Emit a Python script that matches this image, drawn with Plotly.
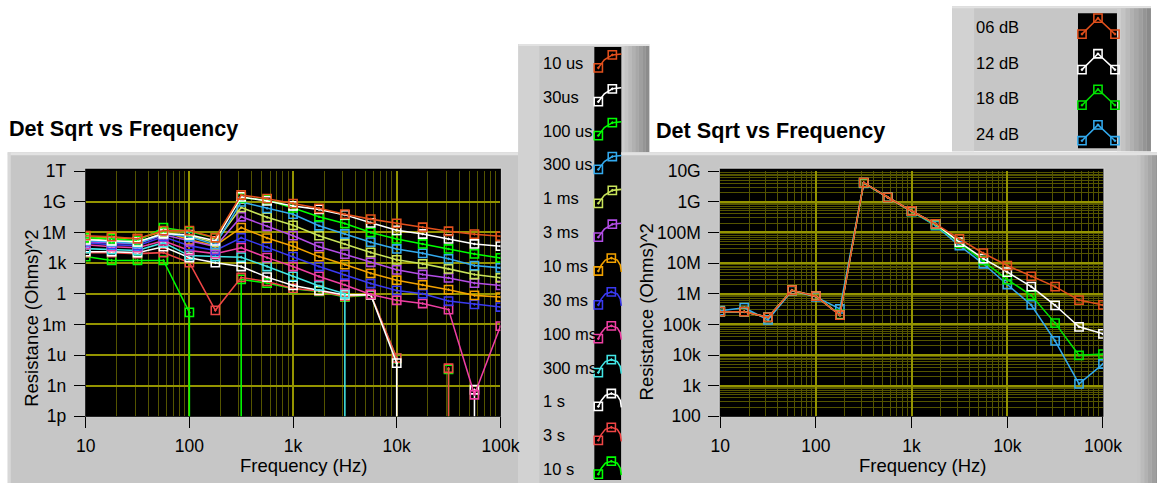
import plotly.graph_objects as go

# Layout positions are given in screen pixels of the 1157 x 483 view.
# The page keeps the browser's body margin and the view shows the page
# at about 97.6 % x 96.6 %, so positions are mapped through that.
VIEW_W, VIEW_H = 1157, 483
SX, SY = 0.976, 0.966
OX, OY = 10.5, 8
W, H = 1174, 489
ZOOM = 1 / ((SX + SY) / 2)  # keeps text and marks at their on-screen size

# ---------------------------------------------------------------- data
freq_hz = [10, 17.8, 31.6, 56.2, 100, 178, 316, 562, 1000, 1780, 3160, 5620,
           10000, 17800, 31600, 56200, 100000]

# Det sqrt, left graph, one list per integration time.
# 0 marks a non-positive result: it has no place on a log axis and the
# trace drops to the bottom edge there.
r_10us = [4.8e5, 3.8e5, 2.4e5, 1.5e6, 1.5e6, 3.0e5, 4.6e9, 2.0e9, 6.6e8, 2.3e8,
          6.1e7, 2.0e7, 7.8e6, 3.2e6, 1.3e6, 6.7e5, 4.2e5]
r_30us = [1.9e5, 1.5e5, 1.2e5, 7.4e5, 5.9e5, 1.5e5, 3.0e9, 1.2e9, 3.9e8, 1.8e8,
          5.2e7, 8.7e6, 1.6e6, 7.0e5, 2.3e5, 7.4e4, 4.5e4]
r_100us = [3.0e5, 2.4e5, 1.5e5, 2.9e6, 1.2e6, 3.0e5, 2.4e9, 1.5e9, 2.5e8, 3.4e7,
           7.5e6, 1.0e6, 2.3e5, 7.4e4, 2.4e4, 7.9e3, 3.2e3]
r_300us = [1.5e5, 1.2e5, 7.9e4, 7.4e5, 3.8e5, 6.3e4, 9.6e8, 2.3e8, 6.1e7, 4.5e6,
           7.0e5, 1.1e5, 2.4e4, 9.0e3, 2.6e3, 570, 340]
r_1ms = [2.4e5, 1.5e5, 9.9e4, 9.3e5, 4.8e5, 9.9e4, 2.8e8, 3.0e7, 5.0e6, 4.8e5,
         7.4e4, 1.1e4, 2.1e3, 840, 270, 76, 36]
r_3ms = [1.2e5, 9.9e4, 7.9e4, 5.9e5, 1.5e5, 4.0e4, 3.4e7, 4.0e6, 4.8e5, 4.0e4,
         7.5e3, 1.2e3, 220, 76, 35, 11, 6.5]
r_10ms = [3.8e5, 3.0e5, 2.4e5, 1.2e6, 1.9e5, 5.1e4, 3.0e6, 2.8e5, 4.5e4, 4.3e3,
          720, 100, 21, 7.3, 2.5, 0.69, 0.47]
r_30ms = [9.9e4, 6.3e4, 5.1e4, 3.8e5, 5.1e4, 1.7e4, 3.0e5, 3.6e4, 4.3e3, 460,
          68, 10, 2.1, 1.0, 0.19, 0.092, 0.050]
r_100ms = [6.3e4, 4.0e4, 3.2e4, 1.5e5, 1.7e4, 8.4e3, 3.2e4, 3.4e3, 460, 49,
           7.3, 0.86, 0.23, 0.11, 0.028, 1.3e-10, 6.7e-4]
r_300ms = [2.6e4, 2.1e4, 1.7e4, 9.9e4, 5.4e3, 4.3e3, 3.8e3, 460, 49, 5.8,
           1.0, 0, 0, 0, 0, 0, 0]
r_1s = [1.3e4, 1.3e4, 1.05e4, 4.0e4, 3.4e3, 1.1e3, 460, 42, 6.5, 2.1,
        0.77, 0.77, 1.6e-7, 0, 0, 4e-10, 0]
r_3s = [1.05e4, 1.05e4, 8.4e3, 1.05e4, 1.1e3, 0.024, 39, 16, 3.3, 1.9,
        0.55, 0.86, 5.1e-7, 0, 5.1e-8, 0, 0]
r_10s = [4.3e3, 1.8e3, 1.8e3, 1.8e3, 0.015, 0, 25, 11, 3.0, 1.7,
         0.47, 0.77, 4.6e-7, 0, 3.9e-8, 0, 0]

time_labels = ["10 us", "30us", "100 us", "300 us", "1 ms", "3 ms", "10 ms",
               "30 ms", "100 ms", "300 ms", "1 s", "3 s", "10 s"]
time_colors = ["#e2501c", "#ffffff", "#00ff00", "#33aaee", "#c8e35a", "#b34de6",
               "#f2a200", "#3a3af0", "#ef3fa3", "#43e6e6", "#ffffff", "#f04646",
               "#00ff00"]
time_series = [r_10us, r_30us, r_100us, r_300us, r_1ms, r_3ms, r_10ms, r_30ms,
               r_100ms, r_300ms, r_1s, r_3s, r_10s]

# Det sqrt, right graph, one list per gain setting
r_06db = [2.6e5, 2.6e5, 1.7e5, 1.3e6, 8.3e5, 2.0e5, 4.2e9, 1.4e9, 5.0e8, 1.9e8,
          6.2e7, 2.1e7, 8.3e6, 3.7e6, 1.7e6, 6.2e5, 4.3e5]
r_12db = [2.6e5, 2.6e5, 1.7e5, 1.3e6, 8.3e5, 2.0e5, 4.2e9, 1.4e9, 5.0e8, 1.9e8,
          4.8e7, 1.4e7, 5.1e6, 1.7e6, 4.2e5, 8.3e4, 4.9e4]
r_18db = [2.6e5, 2.6e5, 1.7e5, 1.3e6, 8.3e5, 2.1e5, 4.1e9, 1.4e9, 4.9e8, 1.8e8,
          4.5e7, 1.2e7, 2.9e6, 8.9e5, 1.1e5, 9.8e3, 1.07e4]
r_24db = [2.8e5, 3.5e5, 1.4e5, 1.26e6, 7.9e5, 3.2e5, 4.0e9, 1.4e9, 4.8e8, 1.66e8,
          3.7e7, 9.5e6, 2.0e6, 4.3e5, 2.9e4, 1.15e3, 5.1e3]

db_labels = ["06 dB", "12 dB", "18 dB", "24 dB"]
db_colors = ["#e2501c", "#ffffff", "#00e600", "#33aaee"]
db_series = [r_06db, r_12db, r_18db, r_24db]

# axis labels
freq_ticks = [10, 100, 1000, 10000, 100000]
freq_text = ["10", "100", "1k", "10k", "100k"]
left_ticks = [1e-12, 1e-9, 1e-6, 1e-3, 1, 1e3, 1e6, 1e9, 1e12]
left_text = ["1p", "1n", "1u", "1m", "1", "1k", "1M", "1G", "1T"]
right_ticks = [1e2, 1e3, 1e4, 1e5, 1e6, 1e7, 1e8, 1e9, 1e10]
right_text = ["100", "1k", "10k", "100k", "1M", "10M", "100M", "1G", "10G"]

# ---------------------------------------------------------------- style
FONT = "Liberation Sans, Arial, sans-serif"
GRID_MAJOR = "#949400"
GRID_MINOR = "#545400"
PANEL = "#c6c6c6"
FLOOR = 1e-30  # far below any axis range: stands for log(0)
MSIZE = 8 * ZOOM
LW = 1.5 * ZOOM


def fx(p):
    return (p / SX - OX) / W


def fy(p):
    return 1 - (p / SY - OY) / H


def fs(size):
    return round(size * ZOOM, 1)


def drop_to_floor(xs, ys):
    """Split a series at non-positive values; neighbours fall vertically."""
    px, py = [], []
    n = len(xs)
    for i, (x, y) in enumerate(zip(xs, ys)):
        if y <= 0:
            continue
        if i > 0 and ys[i - 1] <= 0:
            px.append(x)
            py.append(FLOOR)
        px.append(x)
        py.append(y)
        if i < n - 1 and ys[i + 1] <= 0:
            px += [x, None]
            py += [FLOOR, None]
    return px, py


def minor_values(first_decade, last_decade):
    return [m * 10 ** e for e in range(first_decade, last_decade) for m in range(2, 10)]


def marker(c):
    return dict(symbol="square-open-dot", size=MSIZE, color=c, line=dict(color=c, width=LW))


fig = go.Figure()

# later plots first, so the first plot ends up on top
for i in reversed(range(len(time_series))):
    xs, ys = drop_to_floor(freq_hz, time_series[i])
    c = time_colors[i]
    fig.add_trace(go.Scatter(
        x=xs, y=ys, mode="lines+markers", xaxis="x", yaxis="y",
        line=dict(color=c, width=LW), marker=marker(c),
        connectgaps=False, hoverinfo="skip", showlegend=False))

for i in reversed(range(len(db_series))):
    xs, ys = drop_to_floor(freq_hz, db_series[i])
    c = db_colors[i]
    fig.add_trace(go.Scatter(
        x=xs, y=ys, mode="lines+markers", xaxis="x2", yaxis="y2",
        line=dict(color=c, width=LW), marker=marker(c),
        connectgaps=False, hoverinfo="skip", showlegend=False))

# ---------------------------------------------------------------- legend icons
# drawn on a hidden full-page axis measured in screen pixels
for i, c in enumerate(time_colors):
    L = 61 + 34.1 * i
    if i < 6:
        ix = [599, 605, 613, 622]
        iy = [L + 5, L - 3, L - 8, L - 9]
        mk = [0, 2]
    else:
        ix = [599, 602, 606, 612, 618, 621, 622]
        iy = [L + 5, L - 1, L - 6, L - 8, L - 6, L - 1, L + 6]
        mk = [0, 3]
    fig.add_trace(go.Scatter(x=ix, y=iy, mode="lines", xaxis="x3", yaxis="y3",
                             line=dict(color=c, width=LW), hoverinfo="skip", showlegend=False))
    fig.add_trace(go.Scatter(x=[ix[k] for k in mk], y=[iy[k] for k in mk], mode="markers",
                             xaxis="x3", yaxis="y3", marker=marker(c),
                             hoverinfo="skip", showlegend=False))

for i, c in enumerate(db_colors):
    L = 25 + 35.8 * i
    ix = [1083, 1099, 1116]
    iy = [L + 7, L - 9, L + 7]
    fig.add_trace(go.Scatter(x=ix, y=iy, mode="lines+markers", xaxis="x3", yaxis="y3",
                             line=dict(color=c, width=LW), marker=marker(c),
                             hoverinfo="skip", showlegend=False))

# ---------------------------------------------------------------- panels
shapes = []


def rect(x0, y0, x1, y1, fill, line_color=None, lw=0):
    shapes.append(dict(type="rect", xref="paper", yref="paper", layer="below",
                       x0=fx(x0), x1=fx(x1), y0=fy(y1), y1=fy(y0),
                       fillcolor=fill,
                       line=dict(color=line_color or fill, width=lw)))


def hgrad(x0, x1, y0, y1, c0, c1, steps=8):
    for k in range(steps):
        t = k / (steps - 1)
        v = round(c0 + (c1 - c0) * t)
        col = f"rgb({v},{v},{v})"
        a = x0 + (x1 - x0) * k / steps
        b = x0 + (x1 - x0) * (k + 1) / steps
        rect(a, y0, b, y1, col)


# left graph panel
rect(8, 151, 519, 490, PANEL)
rect(8, 151, 519, 154, "#e2e2e2")
rect(8, 151, 11, 490, "#d8d8d8")
# middle legend
rect(519, 42, 650, 490, PANEL)
rect(519, 42, 540, 490, "#d2d2d2")
rect(519, 42, 650, 44, "#e2e2e2")
hgrad(622, 650, 44, 151, 205, 140)
rect(595, 45, 622, 481, "#000000")
# right graph panel
rect(622, 151, 1170, 490, PANEL)
rect(622, 151, 1170, 154, "#e2e2e2")
hgrad(1138, 1160, 154, 490, 196, 150, 6)
# right legend
rect(953, 4, 1152, 150, PANEL)
rect(953, 4, 975, 150, "#d2d2d2")
rect(953, 4, 1152, 6, "#e2e2e2")
hgrad(1118, 1152, 6, 150, 205, 140)
rect(1079, 11, 1118, 147, "#000000")
# plot areas
rect(85, 167, 502, 418, "#000000", "#d6d6d6", 1)
rect(720, 167, 1105, 418, "#000000", "#d6d6d6", 1)

# ---------------------------------------------------------------- text
ann = []


def text(x, y, s, size, xanchor="left", angle=0, bold=False):
    ann.append(dict(xref="paper", yref="paper", x=fx(x), y=fy(y), text=f"<b>{s}</b>" if bold else s,
                    showarrow=False, xanchor=xanchor, yanchor="middle", textangle=angle,
                    font=dict(family=FONT, size=fs(size), color="#000000")))


text(7, 127, "Det Sqrt vs Frequency", 21, bold=True)
text(655, 129, "Det Sqrt vs Frequency", 21, bold=True)
text(304, 467, "Frequency (Hz)", 18, xanchor="center")
text(923, 467, "Frequency (Hz)", 18, xanchor="center")
text(31, 318, "Resistance (Ohms)^2", 18, xanchor="center", angle=-90)
text(647, 312, "Resistance (Ohms)^2", 18, xanchor="center", angle=-90)
for i, s in enumerate(time_labels):
    text(542, 61 + 34.1 * i, s, 16)
for i, s in enumerate(db_labels):
    text(975, 25 + 35.8 * i, s, 16)

# ---------------------------------------------------------------- axes
tick_font = dict(family=FONT, size=fs(17), color="#000000")


def freq_axis(x0, x1, anchor):
    return dict(type="log", domain=[fx(x0), fx(x1)], range=[1, 5], anchor=anchor,
                tickmode="array", tickvals=freq_ticks, ticktext=freq_text,
                ticks="outside", ticklen=11, tickwidth=1, tickcolor="#000000",
                tickfont=tick_font, ticklabelstandoff=3,
                showgrid=True, gridcolor=GRID_MAJOR, gridwidth=2,
                minor=dict(tickmode="array", tickvals=minor_values(1, 5), showgrid=True,
                           gridcolor=GRID_MINOR, gridwidth=1, ticks=""),
                showline=False, zeroline=False, fixedrange=True)


def value_axis(rng, vals, txt, anchor, minor_grid):
    ax = dict(type="log", domain=[fy(417), fy(170)], range=rng, anchor=anchor,
              tickmode="array", tickvals=vals, ticktext=txt,
              ticks="outside", ticklen=11, tickwidth=1, tickcolor="#000000",
              tickfont=tick_font, ticklabelstandoff=4,
              showgrid=True, gridcolor=GRID_MAJOR, gridwidth=2,
              showline=False, zeroline=False, fixedrange=True)
    if minor_grid:
        ax["minor"] = dict(tickmode="array", tickvals=minor_values(2, 10), showgrid=True,
                           gridcolor=GRID_MINOR, gridwidth=1, ticks="")
    return ax


fig.update_layout(
    width=W, height=H, autosize=False,
    margin=dict(l=0, r=0, t=0, b=0, pad=0),
    paper_bgcolor="#ffffff", plot_bgcolor="rgba(0,0,0,0)",
    showlegend=False,
    xaxis=freq_axis(86, 501, "y"),
    yaxis=value_axis([-12, 12], left_ticks, left_text, "x", False),
    xaxis2=freq_axis(721, 1104, "y2"),
    yaxis2=value_axis([2, 10], right_ticks, right_text, "x2", True),
    xaxis3=dict(domain=[0, 1], range=[SX * OX, SX * (OX + W)],
                visible=False, fixedrange=True, anchor="y3"),
    yaxis3=dict(domain=[0, 1], range=[SY * (OY + H), SY * OY],
                visible=False, fixedrange=True, anchor="x3"),
    shapes=shapes,
    annotations=ann,
)

fig.write_html("out.html", config={"staticPlot": True})
